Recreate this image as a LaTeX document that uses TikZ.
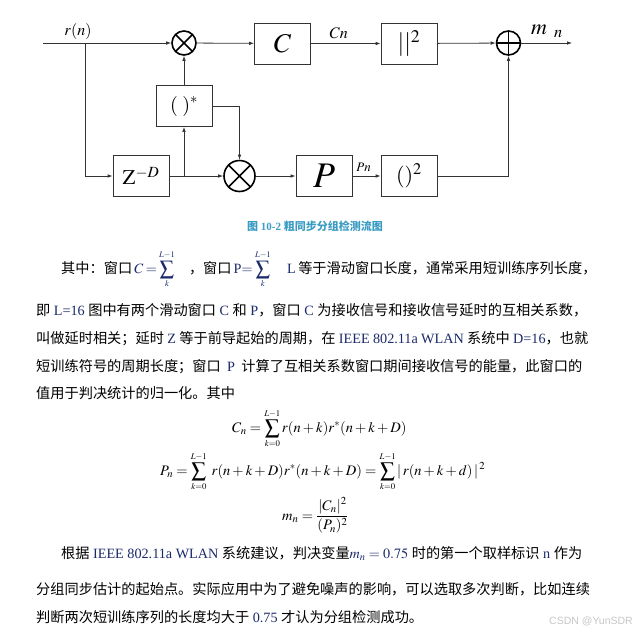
\documentclass[tikz,border=0pt]{standalone}
\usepackage{mathptmx}
\usepackage[no-math]{fontspec}
\setmainfont{Liberation Serif}
\newfontfamily\zh{Noto Sans CJK SC}
\newfontfamily\wmfont{Liberation Sans}
\usetikzlibrary{arrows.meta}
\XeTeXlinebreaklocale "zh"
\XeTeXlinebreakskip=0pt plus 4pt
\definecolor{navy}{HTML}{1B2A6B}
\definecolor{capcol}{HTML}{3B9CC3}
\newcommand{\lat}[1]{{\rmfamily\color{navy}\mbox{}#1}}
\newcommand{\lmt}[1]{\scriptscriptstyle #1}
\newcommand{\bigsum}{\displaystyle\sum\limits}

\begin{document}
\begin{tikzpicture}[
    x=1pt, y=-1pt,
    wire/.style={draw=black!80, line width=0.8pt},
    arrow/.style={wire, -{Latex[length=5pt,width=3.6pt]}},
    block/.style={
        draw=black!80,
        line width=0.8pt,
        minimum width=56pt,
        minimum height=41pt,
        inner sep=0pt
    },
    mult/.style={
        circle, draw, line width=1.6pt,
        minimum size=24pt, inner sep=0pt,
        path picture={\draw[line width=1.6pt]
            (path picture bounding box.north west) -- (path picture bounding box.south east)
            (path picture bounding box.north east) -- (path picture bounding box.south west);}
    },
    summer/.style={
        circle, draw, line width=1.6pt,
        minimum size=24pt, inner sep=0pt,
        path picture={\draw[line width=1.6pt]
            (path picture bounding box.north) -- (path picture bounding box.south)
            (path picture bounding box.west) -- (path picture bounding box.east);}
    },
    txt/.style={anchor=base west, inner sep=0pt, font=\fontsize{14.2}{17}\selectfont},
    mathtxt/.style={anchor=base west, inner sep=0pt, font=\fontsize{14.5}{17}\selectfont}
]
\useasboundingbox (0,0) rectangle (639,632);
\fill[white] (0,0) rectangle (639,632);

% block diagram
\coordinate (in) at (43,43);
\coordinate (split) at (85,43);
\coordinate (out) at (572,43);
\node[mult] (mulc) at (184,43) {};
\node[block] (wc) at (282.5,43.5) {\fontsize{27}{27}\selectfont$C$};
\node[block] (abs) at (409,43.5) {\fontsize{24}{24}\selectfont$||^{2}$};
\node[summer] (add) at (508.5,43) {};
\node[block] (conj) at (184,106) {\fontsize{20}{20}\selectfont$(\;)^{*}$};
\node[block] (delay) at (141,176) {\fontsize{21}{21}\selectfont$\mathrm{Z}^{-D}$};
\coordinate (tap) at (184,176);
\node[mult, minimum size=31pt] (mulp) at (239.5,176) {};
\node[block] (wp) at (324,176) {\fontsize{36}{36}\selectfont$P$};
\node[block] (pow) at (409,176) {\fontsize{22}{22}\selectfont$()^{2}$};

\node[font=\fontsize{16}{16}\selectfont] (lrn) at (78,31) {$r(n)$};
\node[font=\fontsize{22}{22}\selectfont] (lmn) at (547,31) {$m_{\;\;n}$};

\draw[arrow] (in) -- (mulc);
\draw[arrow] (mulc) -- (wc);
\draw[arrow] (wc) -- node[pos=0.4, above=1pt, font=\fontsize{16}{16}\selectfont] {$Cn$} (abs);
\draw[arrow] (abs) -- (add);
\draw[arrow] (add) -- (out);
\draw[arrow] (split) |- (delay);
\draw[arrow] (delay) -- (mulp);
\draw[arrow] (tap) -- (conj);
\draw[arrow] (conj) -- (mulc);
\draw[arrow] (conj.east) -| (mulp);
\draw[arrow] (mulp) -- (wp);
\draw[arrow] (wp) -- node[pos=0.4, above=1pt, font=\fontsize{13}{13}\selectfont] {$Pn$} (pow);
\draw[arrow] (pow) -| (add);

% caption
\node[anchor=base west, inner sep=0pt, text=capcol, font=\fontsize{11}{11}\selectfont\bfseries] (cap) at (247,230) {{\zh 图} 10-2 {\zh 粗同步分组检测流图}};

% paragraph
\node[txt] (l1) at (61,273) {\hbox to 527pt{\zh 其中：窗口 \lat{$C=\bigsum_{\lmt{k}}^{\lmt{L-1}}$}\quad ，窗口 \lat{P$=\bigsum_{\lmt{k}}^{\lmt{L-1}}$}\quad\lat{ L }等于滑动窗口长度，通常采用短训练序列长度，}};
\node[txt] (l2) at (36,315) {\hbox to 551pt{\zh 即\lat{ L=16 }图中有两个滑动窗口\lat{ C }和\lat{ P}，窗口\lat{ C }为接收信号和接收信号延时的互相关系数，}};
\node[txt] (l3) at (36,343) {\hbox to 552pt{\zh 叫做延时相关；延时\lat{ Z }等于前导起始的周期，在\lat{ IEEE 802.11a WLAN }系统中\lat{ D=16}，也就}};
\node[txt] (l4) at (36,371) {\hbox to 546pt{\zh 短训练符号的周期长度；窗口\lat{ P }计算了互相关系数窗口期间接收信号的能量，此窗口的}};
\node[txt] (l5) at (36,398) {\zh 值用于判决统计的归一化。其中};

% formulas
\node[mathtxt] (fc) at (232,432) {$C_n=\bigsum_{\lmt{k=0}}^{\lmt{L-1}} r(n+k)r^{*}(n+k+D)$};
\node[mathtxt] (fp) at (160,475) {$P_n=\bigsum_{\lmt{k=0}}^{\lmt{L-1}}\; r(n+k+D)r^{*}(n+k+D)=\bigsum_{\lmt{k=0}}^{\lmt{L-1}}|\,r(n+k+d)\,|^{\,2}$};
\node[mathtxt] (fm) at (282,520) {$m_n=\displaystyle\frac{|C_n|^{2}}{(P_n)^{2}}$};

\node[txt] (l6) at (61,558) {\hbox to 521pt{\zh 根据\lat{ IEEE 802.11a WLAN }系统建议，判决变量\lat{$m_n=0.75$ }时的第一个取样标识\lat{ n }作为}};
\node[txt] (l7) at (36,594) {\hbox to 552pt{\zh 分组同步估计的起始点。实际应用中为了避免噪声的影响，可以选取多次判断，比如连续}};
\node[txt] (l8) at (36,622) {\zh 判断两次短训练序列的长度均大于\lat{ 0.75 }才认为分组检测成功。};

\node[anchor=base east, inner sep=0pt, text=black!22, font=\wmfont\fontsize{10.5}{10.5}\selectfont] (wm) at (633,624) {CSDN @YunSDR};
\end{tikzpicture}
\end{document}
